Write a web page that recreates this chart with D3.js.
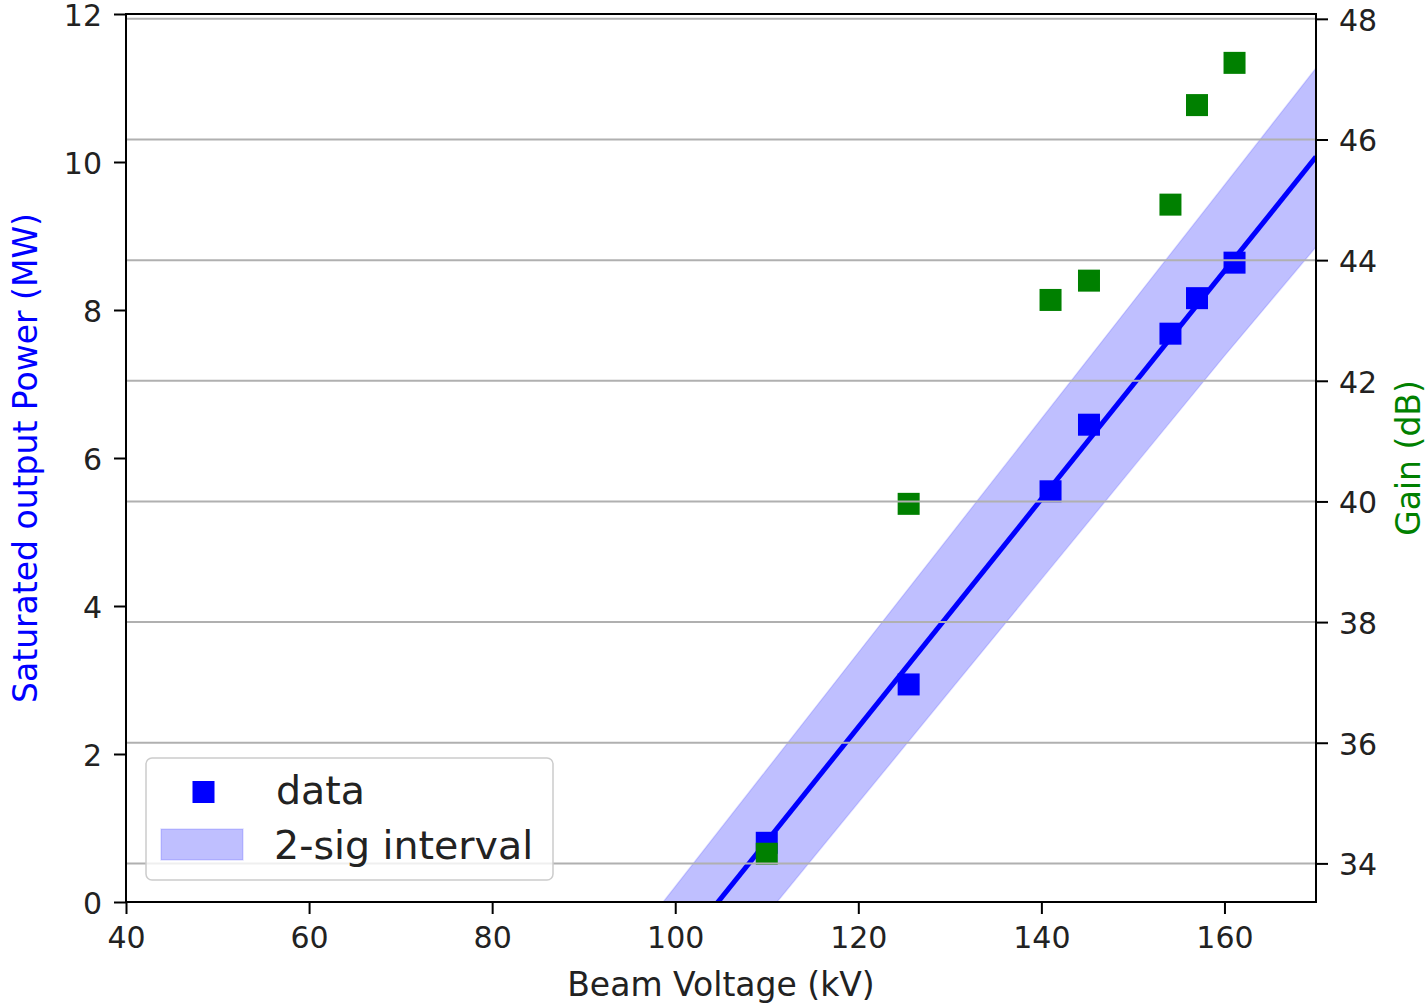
<!DOCTYPE html>
<html>
<head>
<meta charset="utf-8">
<script src="https://cdn.jsdelivr.net/npm/d3@7"></script>
<style>
  body { margin: 0; background: #fff; }
  svg { display: block; font-family: "DejaVu Sans", sans-serif; }
</style>
</head>
<body>
<svg width="1428" height="1005"></svg>
<script>
// measured points
var voltage = [110.0, 125.5, 141.0, 145.2, 154.1, 157.0, 161.1];
var power   = [0.80, 2.94, 5.55, 6.45, 7.68, 8.16, 8.64];
var gain    = [34.16, 39.96, 43.34, 43.66, 44.92, 46.57, 47.27];

// fit line and 2-sigma band
var fitX   = [100, 170];
var fitY   = [-0.72, 10.07];
var bandX  = [95, 100, 110, 120, 130, 140, 150, 160, 170];
var bandHi = [-0.58, 0.21, 1.79, 3.37, 4.95, 6.53, 8.11, 9.69, 11.27];
var bandLo = [-2.43, -1.68, -0.17, 1.34, 2.85, 4.36, 5.87, 7.38, 8.85];

var xTicks    = [40, 60, 80, 100, 120, 140, 160];
var powTicks  = [0, 2, 4, 6, 8, 10, 12];
var gainTicks = [34, 36, 38, 40, 42, 44, 46, 48];

var M = { left: 126, top: 14, right: 1316, bottom: 902 };
var TICK_FONT = 30, LABEL_FONT = 33, LEGEND_FONT = 39.5;
var MARK = 22;

var svg = d3.select('svg');

var x  = d3.scaleLinear().domain([40, 170]).range([M.left, M.right]);
var yP = d3.scaleLinear().domain([0, 12]).range([M.bottom, M.top]);
var yG = d3.scaleLinear().domain([33.36, 48.08]).range([M.bottom, M.top]);

svg.append('defs').append('clipPath').attr('id', 'plot')
  .append('rect')
  .attr('x', M.left).attr('y', M.top)
  .attr('width', M.right - M.left).attr('height', M.bottom - M.top);

var plot = svg.append('g').attr('clip-path', 'url(#plot)');

// band
var band = bandX.map(function(d, i) { return { x: d, lo: bandLo[i], hi: bandHi[i] }; });
plot.append('path')
  .datum(band)
  .attr('d', d3.area()
    .x(function(d) { return x(d.x); })
    .y0(function(d) { return yP(d.lo); })
    .y1(function(d) { return yP(d.hi); }))
  .attr('fill', 'blue').attr('fill-opacity', 0.25)
  .attr('stroke', 'blue').attr('stroke-opacity', 0.12).attr('stroke-width', 1.5);

// fit line
var fit = fitX.map(function(d, i) { return { x: d, y: fitY[i] }; });
plot.append('path')
  .datum(fit)
  .attr('d', d3.line().x(function(d) { return x(d.x); }).y(function(d) { return yP(d.y); }))
  .attr('fill', 'none').attr('stroke', 'blue').attr('stroke-width', 5);

// power squares
plot.selectAll('rect.pow')
  .data(voltage)
  .enter().append('rect')
  .attr('class', 'pow')
  .attr('x', function(d) { return x(d) - MARK / 2; })
  .attr('y', function(d, i) { return yP(power[i]) - MARK / 2; })
  .attr('width', MARK).attr('height', MARK)
  .attr('fill', 'blue');

// gain squares
plot.selectAll('rect.gain')
  .data(voltage)
  .enter().append('rect')
  .attr('class', 'gain')
  .attr('x', function(d) { return x(d) - MARK / 2; })
  .attr('y', function(d, i) { return yG(gain[i]) - MARK / 2; })
  .attr('width', MARK).attr('height', MARK)
  .attr('fill', 'green');

// grid of the right axis, drawn over the marks
plot.selectAll('line.grid')
  .data(gainTicks)
  .enter().append('line')
  .attr('class', 'grid')
  .attr('x1', M.left).attr('x2', M.right)
  .attr('y1', function(d) { return yG(d); })
  .attr('y2', function(d) { return yG(d); })
  .attr('stroke', '#b0b0b0').attr('stroke-width', 2);

// axes
var styleAxis = function(g) {
  g.attr('font-family', null).attr('font-size', TICK_FONT);
  g.select('.domain').remove();
  g.selectAll('.tick line').attr('stroke', '#000').attr('stroke-width', 2);
  g.selectAll('.tick text').attr('fill', '#222');
};

svg.append('g')
  .attr('transform', 'translate(0,' + M.bottom + ')')
  .call(d3.axisBottom(x).tickValues(xTicks).tickSize(12).tickPadding(13).tickFormat(d3.format('d')))
  .call(styleAxis);

svg.append('g')
  .attr('transform', 'translate(' + M.left + ',0)')
  .call(d3.axisLeft(yP).tickValues(powTicks).tickSize(12).tickPadding(12).tickFormat(d3.format('d')))
  .call(styleAxis)
  .selectAll('.tick text').attr('dy', '0.38em');

svg.append('g')
  .attr('transform', 'translate(' + M.right + ',0)')
  .call(d3.axisRight(yG).tickValues(gainTicks).tickSize(12).tickPadding(11).tickFormat(d3.format('d')))
  .call(styleAxis)
  .selectAll('.tick text').attr('dy', '0.38em');

// frame
svg.append('rect')
  .attr('x', M.left).attr('y', M.top)
  .attr('width', M.right - M.left).attr('height', M.bottom - M.top)
  .attr('fill', 'none').attr('stroke', '#000').attr('stroke-width', 2);

// axis labels
svg.append('text')
  .attr('x', (M.left + M.right) / 2).attr('y', 996)
  .attr('text-anchor', 'middle').attr('font-size', LABEL_FONT).attr('fill', '#222')
  .text('Beam Voltage (kV)');

svg.append('text')
  .attr('transform', 'translate(37,' + (M.top + M.bottom) / 2 + ') rotate(-90)')
  .attr('text-anchor', 'middle').attr('font-size', LABEL_FONT).attr('fill', 'blue')
  .text('Saturated output Power (MW)');

svg.append('text')
  .attr('transform', 'translate(1420,' + (M.top + M.bottom) / 2 + ') rotate(-90)')
  .attr('text-anchor', 'middle').attr('font-size', LABEL_FONT).attr('fill', 'green')
  .text('Gain (dB)');

// legend
var legend = svg.append('g');
legend.append('rect')
  .attr('x', 146).attr('y', 758).attr('width', 407).attr('height', 122)
  .attr('rx', 6).attr('fill', '#fff').attr('fill-opacity', 0.8)
  .attr('stroke', '#cccccc').attr('stroke-width', 1.5);
legend.append('rect')
  .attr('x', 203.5 - MARK / 2).attr('y', 792 - MARK / 2)
  .attr('width', MARK).attr('height', MARK).attr('fill', 'blue');
legend.append('rect')
  .attr('x', 161).attr('y', 829).attr('width', 82).attr('height', 31)
  .attr('fill', 'blue').attr('fill-opacity', 0.25)
  .attr('stroke', 'blue').attr('stroke-opacity', 0.12).attr('stroke-width', 1.5);
legend.append('text')
  .attr('x', 276).attr('y', 804).attr('font-size', LEGEND_FONT).attr('fill', '#222')
  .text('data');
legend.append('text')
  .attr('x', 274).attr('y', 859).attr('font-size', LEGEND_FONT).attr('fill', '#222')
  .text('2-sig interval');
</script>
</body>
</html>
